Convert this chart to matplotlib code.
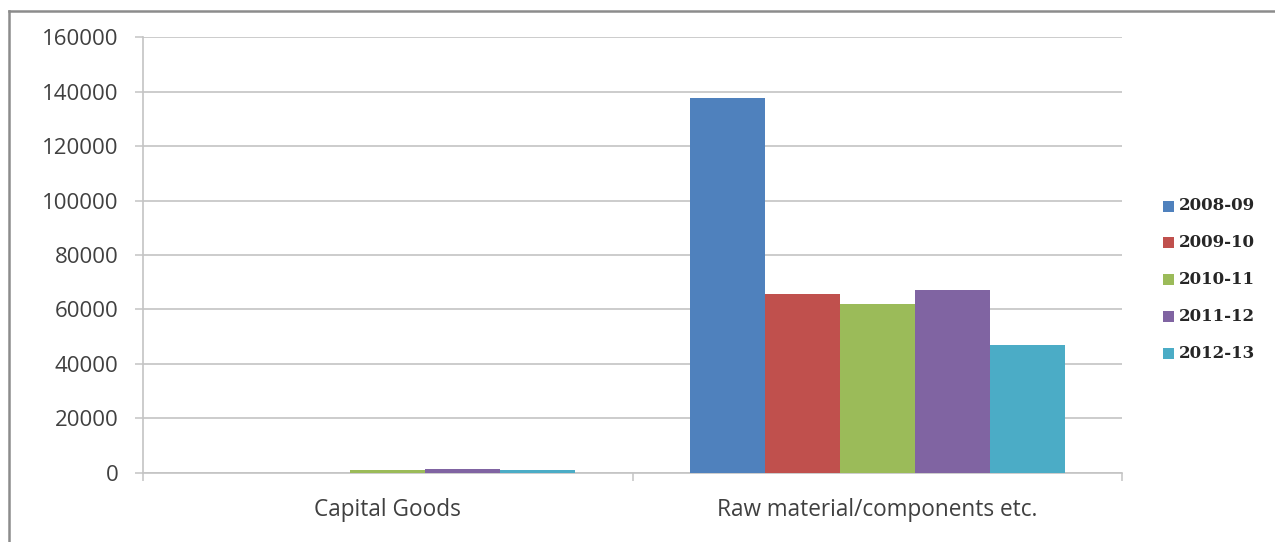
import matplotlib
matplotlib.use("Agg")
import matplotlib.pyplot as plt
import matplotlib.transforms as mtransforms
from matplotlib.lines import Line2D
from matplotlib.patches import Rectangle
import numpy as np

categories = ["Capital Goods", "Raw material/components etc."]
years = ["2008-09", "2009-10", "2010-11", "2011-12", "2012-13"]
values = {
    "2008-09": [0, 137600],
    "2009-10": [0, 65700],
    "2010-11": [1000, 62000],
    "2011-12": [1500, 67100],
    "2012-13": [1100, 46900],
}
colors = ["#4F81BD", "#C0504D", "#9BBB59", "#8064A2", "#4BACC6"]
yticks = [0, 20000, 40000, 60000, 80000, 100000, 120000, 140000, 160000]

W, H = 1275, 542
fig = plt.figure(figsize=(W/100, H/100), dpi=100)
ax = fig.add_axes([143/W, 1-472.7/H, (1122-143)/W, (472.7-37.3)/H])

x = np.arange(len(categories))
w = 75/489
for i, (yr, c) in enumerate(zip(years, colors)):
    ax.bar(x + (i-2)*w, values[yr], width=w, color=c, label=yr, zorder=3)

grid_c = "#C4C4C4"
ax.set_xlim(-0.5, 1.5)
ax.set_ylim(0, 160000)
ax.set_yticks(yticks)
ax.set_yticklabels([str(v) for v in yticks], fontsize=16, color="#404040", family="Open Sans")
ax.yaxis.grid(True, color=grid_c, linewidth=1.2, zorder=0)
ax.set_axisbelow(True)
for s in ["top", "right"]:
    ax.spines[s].set_visible(False)
for s in ["left", "bottom"]:
    ax.spines[s].set_color(grid_c)
    ax.spines[s].set_linewidth(1.2)
ax.tick_params(axis="y", length=5.8, width=1.1, color=grid_c, pad=12)
ax.set_xticks([-0.5, 0.5, 1.5])
ax.set_xticklabels([])
ax.tick_params(axis="x", length=5.8, width=1.1, color=grid_c)
blend = mtransforms.blended_transform_factory(ax.transData, fig.transFigure)
for xi, cat in zip(x, categories):
    ax.text(xi, 1-510/H, cat, transform=blend, ha="center", va="center",
            fontsize=16.3, color="#404040", family="Open Sans", clip_on=False)

# legend drawn manually
leg_y = [206, 242.8, 279.6, 316.4, 353.2]
for yr, c, yy in zip(years, colors, leg_y):
    fig.patches.append(Rectangle((1163/W, 1-(yy+5.5)/H), 11/W, 11/H, transform=fig.transFigure,
                                 facecolor=c, edgecolor="none", figure=fig))
    fig.text(1179/W, 1-yy/H, yr, ha="left", va="center", fontsize=12, fontweight="bold",
             family="DejaVu Serif", color="#262626")

# outer frame (left and top visible)
fig.add_artist(Line2D([8.5/W, 8.5/W], [0, 1-10.5/H], transform=fig.transFigure,
                      color="#8C8C8C", linewidth=1.8))
fig.add_artist(Line2D([8.5/W, 1], [1-10.5/H, 1-10.5/H], transform=fig.transFigure,
                      color="#8C8C8C", linewidth=1.8))

fig.savefig("out.png", dpi=100)
